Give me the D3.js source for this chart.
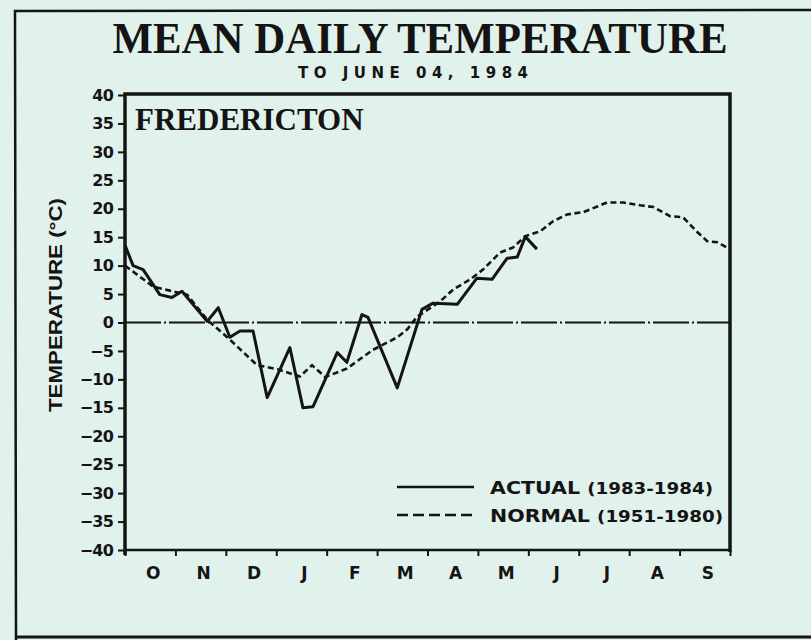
<!DOCTYPE html>
<html>
<head>
<meta charset="utf-8">
<script src="https://cdn.jsdelivr.net/npm/d3@7"></script>
<style>
  html, body { margin: 0; padding: 0; background: #e1f1eb; }
  svg { display: block; }
  .tick text { font-family: "DejaVu Sans", sans-serif; font-weight: bold; }
</style>
</head>
<body>
<svg width="811" height="640"></svg>
<script>
// month labels, Oct 1983 -> Sep 1984
var months = ["O", "N", "D", "J", "F", "M", "A", "M", "J", "J", "A", "S"];
var yTicks = [-40, -35, -30, -25, -20, -15, -10, -5, 0, 5, 10, 15, 20, 25, 30, 35, 40];

// actual mean daily temp (months since Oct 1)
var actualX = [0.0, 0.16, 0.36, 0.69, 0.93, 1.13, 1.63, 1.85, 2.08, 2.28, 2.54, 2.82, 3.27, 3.53, 3.73,
               4.21, 4.40, 4.70, 4.82, 5.40, 5.89, 6.11, 6.59, 6.98, 7.28, 7.58, 7.78, 7.94, 8.17];
var actualT = [13.6, 10.0, 9.3, 4.9, 4.4, 5.5, 0.2, 2.6, -2.6, -1.5, -1.5, -13.2, -4.4, -15.0, -14.8,
               -5.3, -7.0, 1.4, 0.9, -11.5, 2.3, 3.4, 3.2, 7.8, 7.6, 11.3, 11.5, 15.1, 12.9];

// normal 1951-1980
var normalX = [0.0, 0.56, 1.23, 1.63, 2.08, 2.62, 3.02, 3.47, 3.71, 3.97, 4.40, 4.92, 5.40, 5.60, 5.79,
               6.25, 6.51, 6.85, 7.10, 7.44, 7.70, 7.94, 8.23, 8.49, 8.77, 9.09, 9.37, 9.56, 9.88,
               10.22, 10.48, 10.81, 11.07, 11.35, 11.55, 11.75, 12.0];
var normalT = [10.0, 6.3, 4.9, 0.5, -3.0, -7.5, -8.2, -9.5, -7.5, -9.6, -8.1, -4.8, -2.6, -1.2, 1.0,
               3.7, 5.8, 7.6, 9.3, 12.3, 13.2, 15.2, 16.0, 17.8, 19.0, 19.4, 20.4, 21.1, 21.1,
               20.6, 20.3, 18.7, 18.5, 15.9, 14.3, 14.1, 12.9];

var ink = "#141414";
var svg = d3.select("svg");

var x = d3.scaleLinear().domain([0, 12]).range([125, 730]);
var y = d3.scaleLinear().domain([-40, 40]).range([550, 95]);

// outer page frame (top, left, bottom)
svg.append("path")
   .attr("d", "M811,10 L15,11 L16,640")
   .attr("fill", "none").attr("stroke", ink).attr("stroke-width", 2.5);
svg.append("line")
   .attr("x1", 16).attr("x2", 811).attr("y1", 637).attr("y2", 637)
   .attr("stroke", ink).attr("stroke-width", 3);

// titles
svg.append("text")
   .attr("x", 420).attr("y", 53)
   .attr("text-anchor", "middle")
   .attr("textLength", 615).attr("lengthAdjust", "spacingAndGlyphs")
   .style("font-family", "'Liberation Serif', 'Times New Roman', serif")
   .style("font-weight", "bold").style("font-size", "45px")
   .attr("fill", ink)
   .text("MEAN DAILY TEMPERATURE");

svg.append("text")
   .attr("x", 413).attr("y", 78)
   .attr("text-anchor", "middle")
   .attr("textLength", 230).attr("lengthAdjust", "spacing")
   .style("font-family", "'DejaVu Sans', sans-serif")
   .style("font-weight", "bold").style("font-size", "15px")
   .attr("fill", ink)
   .text("TO JUNE 04, 1984");

// y axis
var yAxis = svg.append("g")
   .attr("transform", "translate(125,0)")
   .call(d3.axisLeft(y).tickValues(yTicks).tickSize(7).tickPadding(5).tickFormat(d3.format("d")));
yAxis.select(".domain").remove();
yAxis.selectAll("line").attr("stroke", ink).attr("stroke-width", 2);
yAxis.selectAll("text").attr("fill", ink).style("font-size", "16px").attr("letter-spacing", "-0.8");

// month ticks
var xAxis = svg.append("g")
   .attr("transform", "translate(0,550)")
   .call(d3.axisBottom(x).tickValues(d3.range(0, 13)).tickSize(6).tickFormat(""));
xAxis.select(".domain").remove();
xAxis.selectAll("line").attr("stroke", ink).attr("stroke-width", 2);

svg.append("g").selectAll("text")
   .data(months)
   .enter().append("text")
   .attr("x", function(d, i){ return x(i + 0.5) + 3; })
   .attr("y", 579)
   .attr("text-anchor", "middle")
   .style("font-family", "'DejaVu Sans', sans-serif")
   .style("font-weight", "bold").style("font-size", "17px")
   .attr("fill", ink)
   .text(function(d){ return d; });

// y title
svg.append("text")
   .attr("transform", "translate(62,305) rotate(-90)")
   .attr("text-anchor", "middle")
   .attr("textLength", 214).attr("lengthAdjust", "spacingAndGlyphs")
   .style("font-family", "'Liberation Sans', Arial, sans-serif")
   .style("font-weight", "bold").style("font-size", "19px")
   .attr("fill", ink)
   .text("TEMPERATURE (°C)");

// zero line, dash-dot
svg.append("line")
   .attr("x1", x(0)).attr("x2", x(12))
   .attr("y1", y(0)).attr("y2", y(0))
   .attr("stroke", ink).attr("stroke-width", 2)
   .attr("stroke-dasharray", "36,3,2,3");

var line = d3.line()
   .x(function(d){ return x(d[0]); })
   .y(function(d){ return y(d[1]); });

svg.append("path")
   .datum(d3.zip(normalX, normalT))
   .attr("d", line)
   .attr("fill", "none").attr("stroke", ink)
   .attr("stroke-width", 2.6)
   .attr("stroke-dasharray", "6,3.5");

svg.append("path")
   .datum(d3.zip(actualX, actualT))
   .attr("d", line)
   .attr("fill", "none").attr("stroke", ink)
   .attr("stroke-width", 3)
   .attr("stroke-linejoin", "round");

// plot frame
svg.append("path")
   .attr("d", "M125,555 L125,94 L730,94 L730,552")
   .attr("fill", "none").attr("stroke", ink).attr("stroke-width", 3.5);
svg.append("line")
   .attr("x1", 125).attr("x2", 731).attr("y1", 550).attr("y2", 550)
   .attr("stroke", ink).attr("stroke-width", 2.5);

svg.append("text")
   .attr("x", 135).attr("y", 130)
   .style("font-family", "'Liberation Serif', 'Times New Roman', serif")
   .style("font-weight", "bold").style("font-size", "31px")
   .attr("fill", ink)
   .text("FREDERICTON");

// legend
var legend = [
   {name: "ACTUAL", years: "(1983-1984)", dash: null, y: 487, w: 223},
   {name: "NORMAL", years: "(1951-1980)", dash: "11,5", y: 515, w: 233}
];
var lg = svg.append("g").selectAll("g")
   .data(legend)
   .enter().append("g");
lg.append("line")
   .attr("x1", 397).attr("x2", 474)
   .attr("y1", function(d){ return d.y; }).attr("y2", function(d){ return d.y; })
   .attr("stroke", ink).attr("stroke-width", 2.5)
   .attr("stroke-dasharray", function(d){ return d.dash; });
var lt = lg.append("text")
   .attr("x", 490)
   .attr("y", function(d){ return d.y + 7; })
   .attr("textLength", function(d){ return d.w; })
   .attr("lengthAdjust", "spacingAndGlyphs")
   .style("font-family", "'DejaVu Sans', sans-serif")
   .style("font-weight", "bold")
   .attr("fill", ink);
lt.append("tspan").style("font-size", "18px").text(function(d){ return d.name + " "; });
lt.append("tspan").style("font-size", "16px").text(function(d){ return d.years; });
</script>
</body>
</html>
